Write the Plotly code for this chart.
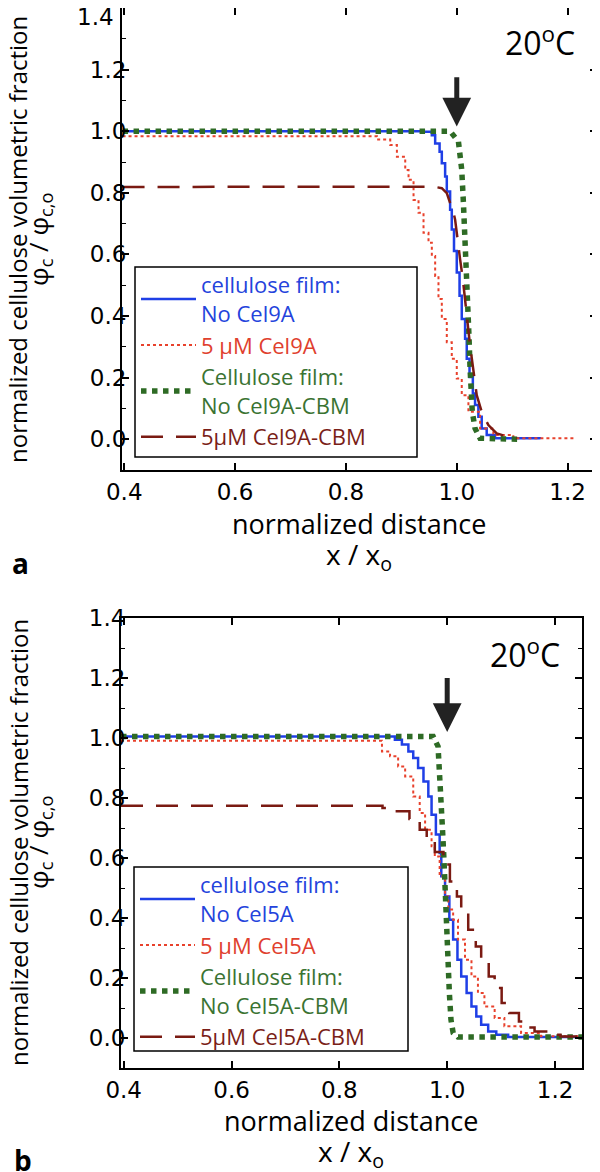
import plotly.graph_objects as go

# ---------------- data: panel a (Cel9A) ----------------
a_ctrl_x = [0.397, 0.940, 0.955, 0.961, 0.969, 0.973, 0.979, 0.982, 0.988, 0.991, 0.995, 1.000, 1.005,
            1.009, 1.015, 1.018, 1.023, 1.029, 1.033, 1.039, 1.045, 1.054, 1.069, 1.150]
a_ctrl_y = [1.000, 0.998, 0.987, 0.960, 0.933, 0.896, 0.853, 0.804, 0.745, 0.681, 0.611, 0.541, 0.466,
            0.390, 0.326, 0.261, 0.202, 0.148, 0.111, 0.073, 0.035, 0.014, 0.003, 0.000]

a_enz_x = [0.397, 0.826, 0.856, 0.880, 0.892, 0.907, 0.913, 0.922, 0.931, 0.940, 0.949, 0.955, 0.961,
           0.967, 0.973, 0.982, 0.991, 1.000, 1.009, 1.021, 1.042, 1.066, 1.102, 1.213]
a_enz_y = [0.984, 0.984, 0.973, 0.955, 0.917, 0.874, 0.842, 0.777, 0.735, 0.670, 0.638, 0.595, 0.530,
           0.455, 0.390, 0.315, 0.261, 0.197, 0.143, 0.089, 0.035, 0.014, 0.003, 0.000]

a_cbmctrl_x = [0.397, 0.988, 1.003, 1.009, 1.012, 1.015, 1.018, 1.020, 1.022, 1.024, 1.026, 1.028, 1.033, 1.042, 1.114]
a_cbmctrl_y = [1.000, 1.000, 0.966, 0.874, 0.767, 0.659, 0.552, 0.444, 0.336, 0.229, 0.143, 0.089, 0.035, 0.003, 0.000]

a_cbm_x = [0.397, 0.958, 0.973, 0.982, 0.988, 0.993, 0.997, 1.003, 1.006, 1.011, 1.015, 1.020, 1.024,
           1.030, 1.036, 1.045, 1.057, 1.072, 1.090, 1.108]
a_cbm_y = [0.819, 0.820, 0.815, 0.799, 0.767, 0.745, 0.713, 0.638, 0.584, 0.519, 0.444, 0.369, 0.304,
           0.218, 0.143, 0.089, 0.046, 0.019, 0.009, 0.003]

# ---------------- data: panel b (Cel5A) ----------------
b_ctrl_x = [0.395, 0.903, 0.916, 0.928, 0.937, 0.946, 0.956, 0.965, 0.971, 0.979, 0.986, 0.989, 0.996,
            1.004, 1.011, 1.019, 1.026, 1.036, 1.045, 1.054, 1.063, 1.076, 1.091, 1.113, 1.250]
b_ctrl_y = [1.005, 0.994, 0.978, 0.955, 0.933, 0.900, 0.855, 0.805, 0.744, 0.678, 0.617, 0.539, 0.472,
            0.394, 0.328, 0.261, 0.205, 0.150, 0.105, 0.072, 0.044, 0.022, 0.011, 0.003, 0.003]

b_enz_x = [0.395, 0.841, 0.879, 0.894, 0.909, 0.922, 0.937, 0.949, 0.959, 0.971, 0.977, 0.986, 0.996,
           1.002, 1.011, 1.020, 1.033, 1.045, 1.057, 1.069, 1.088, 1.106, 1.137, 1.174, 1.250]
b_enz_y = [0.991, 0.991, 0.955, 0.939, 0.905, 0.872, 0.805, 0.750, 0.694, 0.639, 0.605, 0.539, 0.472,
           0.428, 0.394, 0.328, 0.261, 0.205, 0.150, 0.105, 0.067, 0.039, 0.017, 0.006, 0.003]

b_cbmctrl_x = [0.395, 0.974, 0.983, 0.986, 0.989, 0.991, 0.994, 0.996, 0.999, 1.001, 1.004, 1.007, 1.011, 1.020, 1.250]
b_cbmctrl_y = [1.005, 1.005, 0.972, 0.894, 0.805, 0.705, 0.594, 0.483, 0.372, 0.261, 0.150, 0.061, 0.017, 0.003, 0.003]

b_cbm_x = [0.395, 0.880, 0.902, 0.930, 0.949, 0.962, 0.977, 0.993, 1.005, 1.018, 1.026, 1.039, 1.053,
           1.063, 1.077, 1.088, 1.101, 1.115, 1.133, 1.150, 1.162, 1.187, 1.210, 1.250]
b_cbm_y = [0.774, 0.767, 0.756, 0.730, 0.694, 0.667, 0.620, 0.578, 0.522, 0.472, 0.417, 0.361, 0.305,
           0.267, 0.205, 0.167, 0.117, 0.083, 0.055, 0.035, 0.022, 0.011, 0.005, 0.003]

a_names = ["cellulose film:<br>No Cel9A", "5 μM Cel9A", "Cellulose film:<br>No Cel9A-CBM", "5μM Cel9A-CBM"]
b_names = ["cellulose film:<br>No Cel5A", "5 μM Cel5A", "Cellulose film:<br>No Cel5A-CBM", "5μM Cel5A-CBM"]
temp_label = "20<sup>o</sup>C"
x_ticks = [0.4, 0.6, 0.8, 1.0, 1.2]
y_ticks = [0.0, 0.2, 0.4, 0.6, 0.8, 1.0, 1.2, 1.4]
y_labels = ["0.0", "0.2", "0.4", "0.6", "0.8", "1.0", "1.2", "1.4"]

# ---------------- styles ----------------
BLUE, RED, GREEN, DRED = "#1f3fe6", "#e8412c", "#2e6b25", "#7a1a12"
TXT = {BLUE: "#2443dc", RED: "#e0402e", GREEN: "#3a7332", DRED: "#7a1e18"}
styles = [
    dict(color=BLUE, width=2.5, dash="solid"),
    dict(color=RED, width=2, dash="dot"),
    dict(color=GREEN, width=5.5, dash="dot"),
    dict(color=DRED, width=2.5, dash="22px,13px"),
]
a_shapes = ["hv", "hv", "linear", "linear"]
b_shapes = ["hv", "hv", "linear", "hv"]
TITLE_FONT = "Open Sans"
TICK_FONT = "DejaVu Sans"
TICK_SIZE = 23

def colored(name, col):
    return "<br>".join(f'<span style="color:{col}">{p}</span>' for p in name.split("<br>"))

fig = go.Figure()
panels = [
    ([(a_ctrl_x, a_ctrl_y), (a_enz_x, a_enz_y), (a_cbmctrl_x, a_cbmctrl_y), (a_cbm_x, a_cbm_y)], a_names, a_shapes, "x", "y", "legend"),
    ([(b_ctrl_x, b_ctrl_y), (b_enz_x, b_enz_y), (b_cbmctrl_x, b_cbmctrl_y), (b_cbm_x, b_cbm_y)], b_names, b_shapes, "x2", "y2", "legend2"),
]
for series, names, shp, xa, ya, lg in panels:
    for (xs, ys), nm, st, sh in zip(series, names, styles, shp):
        fig.add_trace(go.Scatter(
            x=xs, y=ys, mode="lines", name=colored(nm, TXT[st["color"]]),
            line=dict(color=st["color"], width=st["width"], dash=st["dash"], shape=sh),
            xaxis=xa, yaxis=ya, legend=lg, hoverinfo="skip"))

# the page places the figure 8 px in from the top-left corner
OFF = 8
W, H = 600 - OFF, 1172 - OFF
def px(x):
    return min(1.0, max(0.0, (x - OFF) / W))
def py(y):
    return min(1.0, max(0.0, 1 - (y - OFF) / H))

axis_common = dict(showline=True, linewidth=2, linecolor="black", mirror="ticks", ticks="inside",
                   ticklen=7, tickwidth=1.5, tickcolor="black", showgrid=False, zeroline=False,
                   automargin=False, ticklabeloverflow="allow",
                   tickfont=dict(family=TICK_FONT, size=TICK_SIZE, color="black"), tickformat=".1f")
xa = dict(axis_common, tickvals=x_ticks)
ya = dict(axis_common, tickvals=y_ticks, ticklabelstandoff=-11,
          minor=dict(ticks="inside", ticklen=4, tickwidth=1.2, tickcolor="black", dtick=0.1, showgrid=False))
# top panel: the 1.4 label sits at the very top edge, so it is drawn as a separate text below
ya_top = dict(ya, ticktext=y_labels[:-1] + [""])
ya_bot = dict(ya, ticktext=y_labels)

LEG_FONT = dict(family=TITLE_FONT, size=22)
fig.update_layout(
    template="none",
    width=W, height=H, margin=dict(l=0, r=0, t=0, b=0, pad=0),
    paper_bgcolor="white", plot_bgcolor="white", showlegend=True,
    xaxis=dict(xa, domain=[px(122), px(597)], range=[0.396, 1.253], anchor="y"),
    yaxis=dict(ya_top, domain=[py(470), py(8)], range=[-0.1, 1.4], anchor="x"),
    xaxis2=dict(xa, domain=[px(121), px(582)], range=[0.395, 1.25], anchor="y2"),
    yaxis2=dict(ya_bot, domain=[py(1068), py(618)], range=[-0.1, 1.4], anchor="x2"),
    legend=dict(x=px(136), y=py(264), xanchor="left", yanchor="top", bgcolor="rgba(0,0,0,0)",
                borderwidth=0, font=LEG_FONT, itemwidth=55, tracegroupgap=0),
    legend2=dict(x=px(135), y=py(864), xanchor="left", yanchor="top", bgcolor="rgba(0,0,0,0)",
                 borderwidth=0, font=LEG_FONT, itemwidth=55, tracegroupgap=0),
    shapes=[
        dict(type="rect", xref="paper", yref="paper", x0=px(135), x1=px(417), y0=py(457), y1=py(267),
             line=dict(color="black", width=1.5), fillcolor="white", layer="above"),
        dict(type="rect", xref="paper", yref="paper", x0=px(134), x1=px(408), y0=py(1051), y1=py(867),
             line=dict(color="black", width=1.5), fillcolor="white", layer="above"),
    ],
)

ann = []
def add_text(text, x, y, size, angle=0, bold=False, family=TITLE_FONT, xanchor="center"):
    ann.append(dict(text=f"<b>{text}</b>" if bold else text, x=px(x), y=py(y), xref="paper", yref="paper",
                    xanchor=xanchor, yanchor="middle", textangle=angle, showarrow=False,
                    font=dict(family=family, size=size, color="black")))

# top "1.4" tick label
add_text(y_labels[-1], 116, 17, TICK_SIZE, family=TICK_FONT, xanchor="right")
# axis titles
for cx, cy1, cy2 in [(359, 523, 556), (351, 1120, 1153)]:
    add_text("normalized distance", cx, cy1, 27)
    add_text("x / x<sub>o</sub>", cx, cy2, 28)
for cy in [240, 843]:
    add_text("normalized cellulose volumetric fraction", 18, cy, 24, angle=-90)
    add_text("φ<sub>c</sub> / φ<sub>c,o</sub>", 39, cy, 26, angle=-90)
# temperature labels
add_text(temp_label, 540, 41, 32)
add_text(temp_label, 525, 653, 32)
# panel letters
add_text("a", 20, 563, 28, bold=True)
add_text("b", 23, 1160, 28, bold=True)
# arrows marking the original film surface
ann.append(dict(text="", x=1.0, y=1.015, xref="x", yref="y", ax=1.0, ay=1.18, axref="x", ayref="y",
                showarrow=True, arrowhead=2, arrowsize=1.15, arrowwidth=5, arrowcolor="#222222", standoff=0))
ann.append(dict(text="", x=1.0, y=1.02, xref="x2", yref="y2", ax=1.0, ay=1.205, axref="x2", ayref="y2",
                showarrow=True, arrowhead=2, arrowsize=1.15, arrowwidth=5, arrowcolor="#222222", standoff=0))
fig.update_layout(annotations=ann)

fig.write_html("out.html")
